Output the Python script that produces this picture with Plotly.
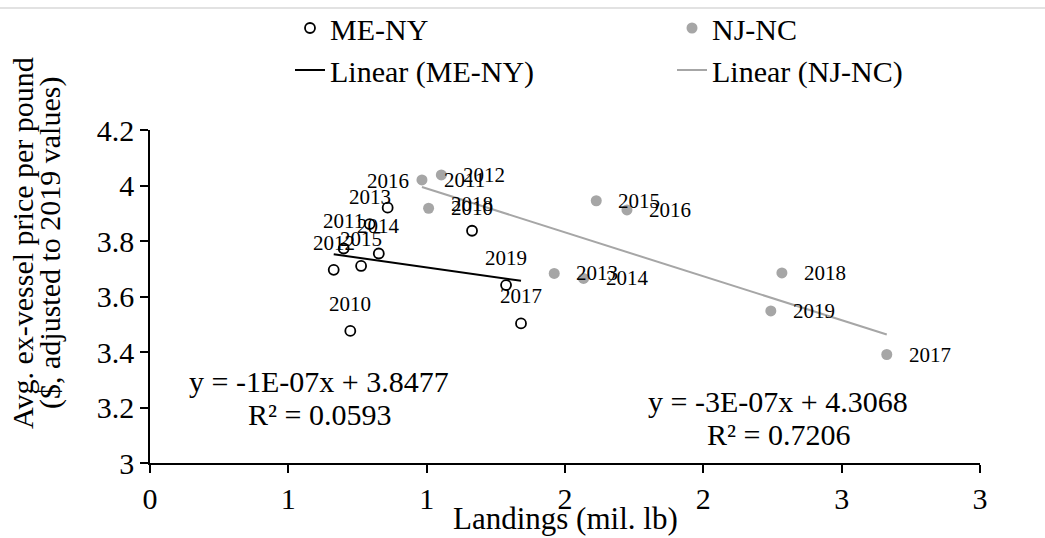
import numpy as np
import plotly.graph_objects as go

# Landings (mil. lb) and average ex-vessel price ($/lb, 2019 dollars) by region
years = [2010, 2011, 2012, 2013, 2014, 2015, 2016, 2017, 2018, 2019]
me_ny_landings = [0.724, 0.700, 0.664, 0.794, 0.827, 0.763, 0.859, 1.341, 1.164, 1.287]
me_ny_price = [3.476, 3.773, 3.696, 3.861, 3.755, 3.710, 3.920, 3.503, 3.837, 3.641]
nj_nc_landings = [1.007, 0.983, 1.053, 1.461, 1.567, 1.613, 1.724, 2.663, 2.284, 2.244]
nj_nc_price = [3.918, 4.020, 4.038, 3.683, 3.665, 3.945, 3.912, 3.391, 3.685, 3.548]

x_tick_vals = [0, 0.5, 1, 1.5, 2, 2.5, 3]
x_tick_text = ["0", "1", "1", "2", "2", "3", "3"]
y_tick_vals = [3, 3.2, 3.4, 3.6, 3.8, 4, 4.2]
y_tick_text = ["3", "3.2", "3.4", "3.6", "3.8", "4", "4.2"]

me_ny_equation = ["y = -1E-07x + 3.8477", "R\u00b2 = 0.0593"]
nj_nc_equation = ["y = -3E-07x + 4.3068", "R\u00b2 = 0.7206"]

SERIF = "Liberation Serif, Times New Roman, serif"
GRAY = "#a6a6a6"
W, H = 1045, 538
ML, MR, MT, MB = 150, 65, 130, 75
PW, PH = W - ML - MR, H - MT - MB


def px_x(px):
    """Horizontal pixel -> paper fraction of the plot area."""
    return (px - ML) / PW


def px_y(py):
    """Vertical pixel (from top) -> paper fraction of the plot area."""
    return (H - MB - py) / PH


def trend(xs, ys):
    slope, intercept = np.polyfit(xs, ys, 1)
    x_end = np.array([min(xs), max(xs)])
    return x_end, slope * x_end + intercept


fig = go.Figure()

fig.add_trace(go.Scatter(
    x=me_ny_landings, y=me_ny_price, mode="markers", name="ME-NY", legend="legend",
    marker=dict(size=10, color="white", line=dict(color="black", width=1.8)),
))
fig.add_trace(go.Scatter(
    x=nj_nc_landings, y=nj_nc_price, mode="markers", name="NJ-NC", legend="legend2",
    marker=dict(size=11, color=GRAY, line=dict(width=0)),
))

tx, ty = trend(me_ny_landings, me_ny_price)
fig.add_trace(go.Scatter(x=tx, y=ty, mode="lines", name="Linear (ME-NY)", legend="legend",
                         line=dict(color="black", width=2)))
tx, ty = trend(nj_nc_landings, nj_nc_price)
fig.add_trace(go.Scatter(x=tx, y=ty, mode="lines", name="Linear (NJ-NC)", legend="legend2",
                         line=dict(color=GRAY, width=2)))

annotations = []
# Year labels: above the ME-NY points, to the right of the NJ-NC points
for yr, xv, yv in zip(years, me_ny_landings, me_ny_price):
    annotations.append(dict(x=xv, y=yv, xref="x", yref="y", text=str(yr),
                            showarrow=False, xanchor="center", yanchor="middle",
                            yshift=27, font=dict(family=SERIF, size=21, color="black")))
for yr, xv, yv in zip(years, nj_nc_landings, nj_nc_price):
    annotations.append(dict(x=xv, y=yv, xref="x", yref="y", text=str(yr),
                            showarrow=False, xanchor="left", yanchor="middle",
                            xshift=20, font=dict(family=SERIF, size=21, color="black")))

# Trend-line equations
for text, cx, cy in [(me_ny_equation[0], 319, 381), (me_ny_equation[1], 319, 414),
                     (nj_nc_equation[0], 778, 401), (nj_nc_equation[1], 778, 434)]:
    annotations.append(dict(x=px_x(cx), y=px_y(cy), xref="paper", yref="paper",
                            text=text, showarrow=False, xanchor="center", yanchor="middle",
                            font=dict(family=SERIF, size=30, color="black")))

# Axis titles
for text, cx in [("Avg. ex-vessel price per pound", 22), ("($, adjusted to 2019 values)", 50)]:
    annotations.append(dict(x=px_x(cx), y=px_y(243), xref="paper", yref="paper",
                            text=text, textangle=-90, showarrow=False,
                            xanchor="center", yanchor="middle",
                            font=dict(family=SERIF, size=30, color="black")))
annotations.append(dict(x=0.5, y=px_y(518), xref="paper", yref="paper",
                        text="Landings (mil. lb)", showarrow=False,
                        xanchor="center", yanchor="middle",
                        font=dict(family=SERIF, size=31, color="black")))

axis_common = dict(
    showline=True, linecolor="black", linewidth=1.5,
    ticks="outside", ticklen=8, tickwidth=1.5, tickcolor="black",
    showgrid=False, zeroline=False, automargin=False,
    tickfont=dict(family=SERIF, size=30, color="black"),
)

legend_common = dict(orientation="v", xanchor="left", yanchor="top",
                     bgcolor="rgba(0,0,0,0)", tracegroupgap=0,
                     font=dict(family=SERIF, size=30, color="black"))

fig.update_layout(
    width=W, height=H,
    margin=dict(l=ML, r=MR, t=MT, b=MB, autoexpand=False),
    paper_bgcolor="white", plot_bgcolor="white",
    xaxis=dict(range=[0, 3], tickvals=x_tick_vals, ticktext=x_tick_text, **axis_common),
    yaxis=dict(range=[3, 4.2], tickvals=y_tick_vals, ticktext=y_tick_text, **axis_common),
    legend=dict(x=px_x(290), y=px_y(2), **legend_common),
    legend2=dict(x=px_x(672), y=px_y(2), **legend_common),
    annotations=annotations,
    shapes=[dict(type="line", xref="paper", yref="paper",
                 x0=px_x(0), x1=px_x(W), y0=px_y(8), y1=px_y(8),
                 line=dict(color="#d9d9d9", width=1.5))],
)

fig.write_html("out.html")
